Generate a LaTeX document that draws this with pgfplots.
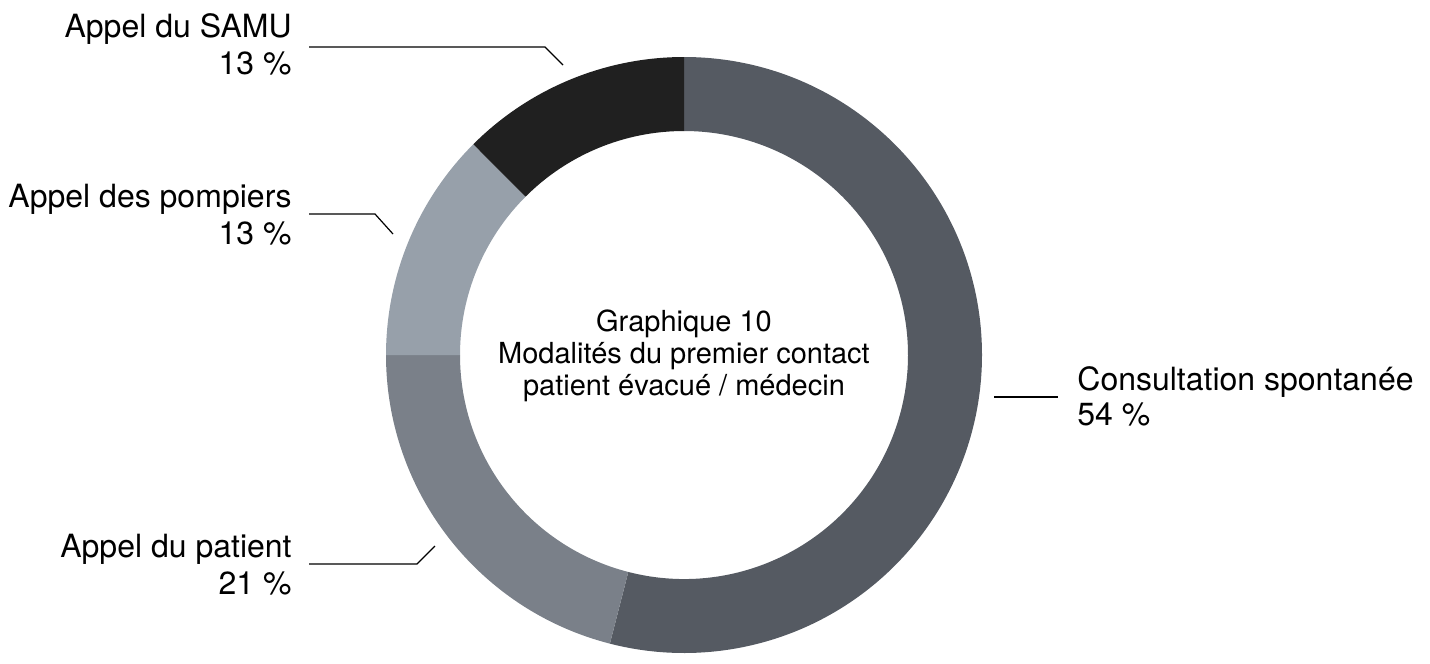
\documentclass[border=0pt]{standalone}
\usepackage{pgfplots}
\pgfplotsset{compat=1.18}
\usepackage{pgfplotstable}
\usepackage{fontspec}
\setmainfont{TeX Gyre Heros}
\definecolor{cCons}{HTML}{555A62}
\definecolor{cPat}{HTML}{7A8089}
\definecolor{cPomp}{HTML}{97A0AA}
\definecolor{cSamu}{HTML}{202020}
\pgfplotstableread{
value
54
21
12.5
12.5
}\donut
\pgfplotstablegetelem{0}{value}\of\donut \let\vA\pgfplotsretval
\pgfplotstablegetelem{1}{value}\of\donut \let\vB\pgfplotsretval
\pgfplotstablegetelem{2}{value}\of\donut \let\vC\pgfplotsretval
\pgfplotstablegetelem{3}{value}\of\donut \let\vD\pgfplotsretval
\pgfmathsetmacro\aA{90}
\pgfmathsetmacro\aB{\aA-3.6*\vA}
\pgfmathsetmacro\aC{\aB-3.6*\vB}
\pgfmathsetmacro\aD{\aC-3.6*\vC}
\pgfmathsetmacro\aE{\aD-3.6*\vD}
\newcommand\Ro{149pt}
\newcommand\Ri{112pt}
\newcommand\donutwedge[3]{%
  \fill[#1, shift={(axis cs:684,355)}] (#2:\Ro) arc[start angle=#2, end angle=#3, radius=\Ro]
    -- (#3:\Ri) arc[start angle=#3, end angle=#2, radius=\Ri] -- cycle;}
\begin{document}
\begin{tikzpicture}
\begin{axis}[hide axis, x=0.5pt, y=0.5pt, y dir=reverse,
  xmin=0, xmax=1430, ymin=0, ymax=650, clip=false]
\path (axis cs:0,0) rectangle (axis cs:1430,650);
\donutwedge{cCons}{\aA}{\aB}
\donutwedge{cPat}{\aB}{\aC}
\donutwedge{cPomp}{\aC}{\aD}
\donutwedge{cSamu}{\aD}{\aE}
% leader lines
\draw[line width=0.6pt] (axis cs:309,47) -- (axis cs:545,47) -- (axis cs:563,65);
\draw[line width=0.6pt] (axis cs:309,214) -- (axis cs:375,214) -- (axis cs:393,234);
\draw[line width=0.6pt] (axis cs:309,564) -- (axis cs:417,564) -- (axis cs:435,546);
\draw[line width=0.6pt] (axis cs:994,397) -- (axis cs:1058,397);
% labels
\begin{scope}[every node/.style={inner sep=0pt, font=\fontsize{16pt}{18.5pt}\selectfont}]
\node[anchor=base east] at (axis cs:292,37) {Appel du SAMU};
\node[anchor=base east] at (axis cs:292,74) {13 \%};
\node[anchor=base east] at (axis cs:292,207) {Appel des pompiers};
\node[anchor=base east] at (axis cs:292,244) {13 \%};
\node[anchor=base east] at (axis cs:292,557) {Appel du patient};
\node[anchor=base east] at (axis cs:292,594) {21 \%};
\node[anchor=base west] at (axis cs:1077,390) {Consultation spontanée};
\node[anchor=base west] at (axis cs:1077,425) {54 \%};
\end{scope}
\begin{scope}[every node/.style={inner sep=0pt, font=\fontsize{14.5pt}{16pt}\selectfont}]
\node[anchor=base] at (axis cs:684,331) {Graphique 10};
\node[anchor=base] at (axis cs:684,363) {Modalités du premier contact};
\node[anchor=base] at (axis cs:684,395) {patient évacué / médecin};
\end{scope}
\end{axis}
\end{tikzpicture}
\end{document}
